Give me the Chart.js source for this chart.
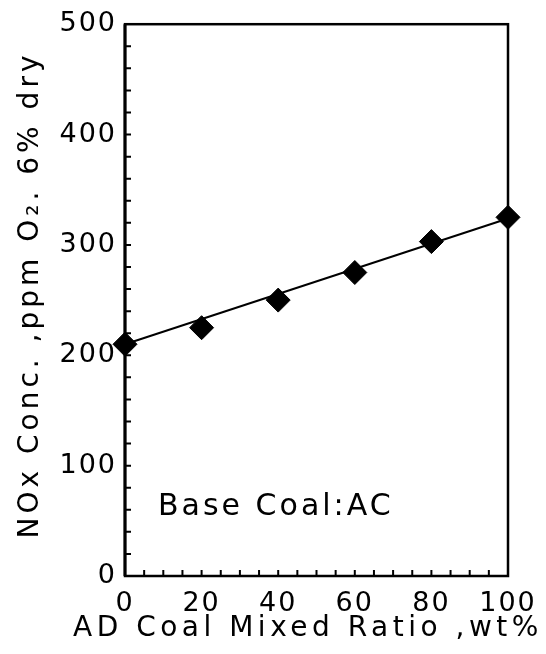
<!DOCTYPE html>
<html lang="en">
<head>
    <meta charset="UTF-8">
    <title>NOx vs AD coal mixed ratio</title>
    <script src="https://cdn.jsdelivr.net/npm/chart.js"></script>
    <style>
        html, body { margin: 0; padding: 0; background: #fff; }
        canvas { display: block; }
    </style>
</head>
<body>
    <canvas id="noxChart" width="546" height="654"></canvas>
    <script>
        // measured points
        const mixRatio = [0, 20, 40, 60, 80, 100];
        const noxConc = [210, 225, 250, 275, 303, 325];
        // straight line drawn through the points
        const fitRatio = [0, 100];
        const fitConc = [210, 324];

        const xTitle = 'AD Coal Mixed Ratio ,wt%';
        const yTitle = 'NOx Conc. ,ppm O\u2082. 6% dry';
        const noteText = 'Base Coal:AC';

        const FONT = '"DejaVu Sans", sans-serif';

        // frame, inward ticks and the text labels
        const framePlugin = {
            id: 'frame',
            beforeDraw(chart) {
                chart.ctx.letterSpacing = '2px';
            },
            afterDraw(chart) {
                const ctx = chart.ctx;
                const a = chart.chartArea;
                const xs = chart.scales.x;
                const ys = chart.scales.y;
                ctx.save();
                ctx.strokeStyle = '#000';
                ctx.lineWidth = 2.5;
                ctx.strokeRect(a.left, a.top, a.right - a.left, a.bottom - a.top);
                ctx.lineWidth = 3;
                ctx.beginPath();
                ctx.moveTo(a.left, a.top);
                ctx.lineTo(a.left, a.bottom);
                ctx.stroke();

                ctx.lineWidth = 2;
                ctx.beginPath();
                ys.ticks.forEach(t => {
                    if (t.value <= ys.min || t.value >= ys.max) return;
                    const py = ys.getPixelForValue(t.value);
                    ctx.moveTo(a.left, py);
                    ctx.lineTo(a.left + 6, py);
                });
                xs.ticks.forEach(t => {
                    if (t.value <= xs.min || t.value >= xs.max) return;
                    const px = xs.getPixelForValue(t.value);
                    ctx.moveTo(px, a.bottom);
                    ctx.lineTo(px, a.bottom - 6);
                });
                ctx.stroke();

                ctx.fillStyle = '#000';
                ctx.font = '28px ' + FONT;
                ctx.textAlign = 'center';
                ctx.textBaseline = 'middle';
                ctx.letterSpacing = '4.5px';
                ctx.fillText(xTitle, 308, 629);

                ctx.save();
                ctx.translate(31, 295);
                ctx.rotate(-Math.PI / 2);
                ctx.letterSpacing = '4px';
                ctx.fillText(yTitle, 0, 0);
                ctx.restore();

                ctx.font = '30px ' + FONT;
                ctx.textAlign = 'left';
                ctx.letterSpacing = '3px';
                ctx.fillText(noteText, 158, 507);
                ctx.restore();
            }
        };

        const ctx = document.getElementById('noxChart').getContext('2d');
        new Chart(ctx, {
            type: 'scatter',
            data: {
                datasets: [
                    {
                        data: mixRatio.map((x, i) => ({ x: x, y: noxConc[i] })),
                        pointStyle: 'rectRot',
                        pointRadius: 12,
                        pointBackgroundColor: '#000',
                        pointBorderColor: '#000',
                        pointBorderWidth: 1,
                        showLine: false,
                        clip: false,
                        order: 0
                    },
                    {
                        data: fitRatio.map((x, i) => ({ x: x, y: fitConc[i] })),
                        showLine: true,
                        borderColor: '#000',
                        borderWidth: 2,
                        pointRadius: 0,
                        clip: false,
                        order: 1
                    }
                ]
            },
            options: {
                responsive: false,
                animation: false,
                layout: { padding: { top: 22, right: 38, left: 0, bottom: 0 } },
                plugins: {
                    legend: { display: false },
                    tooltip: { enabled: false }
                },
                scales: {
                    x: {
                        type: 'linear',
                        min: 0,
                        max: 100,
                        afterFit: s => { s.height = 78; },
                        grid: { display: false, drawTicks: false },
                        border: { display: false },
                        ticks: {
                            stepSize: 5,
                            autoSkip: false,
                            maxRotation: 0,
                            padding: 12,
                            color: '#000',
                            font: { family: FONT, size: 27 },
                            callback: v => (v % 20 === 0 ? String(v) : '')
                        }
                    },
                    y: {
                        min: 0,
                        max: 500,
                        afterFit: s => { s.width = 125; },
                        grid: { display: false, drawTicks: false },
                        border: { display: false },
                        ticks: {
                            stepSize: 20,
                            autoSkip: false,
                            padding: 8,
                            color: '#000',
                            font: { family: FONT, size: 27 },
                            callback: v => (v % 100 === 0 ? String(v) : '')
                        }
                    }
                }
            },
            plugins: [framePlugin]
        });
    </script>
</body>
</html>
